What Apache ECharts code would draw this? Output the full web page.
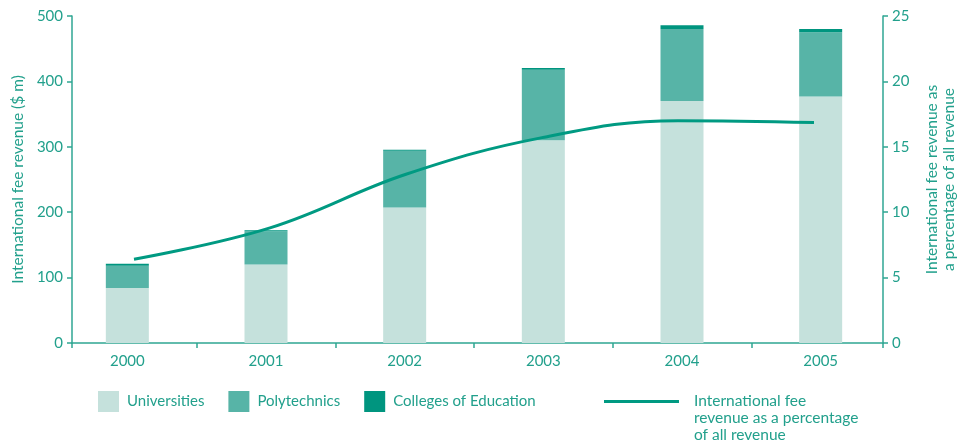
<!DOCTYPE html>
<html>
<head>
<meta charset="utf-8">
<script src="https://cdn.jsdelivr.net/npm/echarts@6/dist/echarts.min.js"></script>
<style>
  html, body { margin: 0; padding: 0; background: #ffffff; }
  #chart { width: 957px; height: 443px; }
</style>
</head>
<body>
<div id="chart"></div>
<script>
// International fee revenue by provider type, 2000–2005
const years = ['2000', '2001', '2002', '2003', '2004', '2005'];
const universities = [84, 120, 207, 310, 370, 377];
const polytechnics = [34, 51, 87, 108, 110, 98];
const collegesOfEducation = [3, 1.5, 1.5, 2.5, 6, 5];
// share of all revenue, percent
const feeSharePct = [6.4, 8.8, 12.9, 15.7, 17.0, 16.85];
const revenueTicks = { min: 0, max: 500, step: 100 };
const shareTicks = { min: 0, max: 25, step: 5 };

const TEXT = '#22a08c';
const AXIS = '#2fa693';
const FONT = 'Lato, "Open Sans", sans-serif';

const chart = echarts.init(document.getElementById('chart'), null, { renderer: 'canvas' });

const plotTop = 16, plotBottom = 100;

chart.setOption({
  animation: false,
  textStyle: { fontFamily: FONT, color: TEXT },
  grid: [
    { left: 58, right: 67, top: plotTop, bottom: plotBottom, outerBoundsMode: 'none' },   // bars
    { left: 66, right: 75, top: plotTop, bottom: plotBottom, outerBoundsMode: 'none' },   // percentage line
    { left: 72, right: 74, top: plotTop, bottom: plotBottom, outerBoundsMode: 'none' }    // visible axis frame
  ],
  xAxis: [
    {
      type: 'category', gridIndex: 0, data: years, position: 'bottom',
      axisLine: { show: false }, axisTick: { show: false },
      axisLabel: { color: TEXT, fontSize: 15, margin: 11, fontFamily: FONT }
    },
    {
      // separators between the years
      type: 'value', gridIndex: 0, position: 'bottom',
      min: 0, max: years.length, interval: 1,
      axisLine: { show: false }, axisLabel: { show: false }, splitLine: { show: false },
      axisTick: { show: true, length: 5, lineStyle: { color: AXIS, width: 1.5 },
                  customValues: [1, 2, 3, 4, 5] }
    },
    {
      type: 'category', gridIndex: 1, data: years, show: false
    },
    {
      type: 'value', gridIndex: 2, position: 'bottom', min: 0, max: 1, interval: 1,
      axisLine: { show: true, lineStyle: { color: AXIS, width: 1.5 } },
      axisTick: { show: true, length: 5, lineStyle: { color: AXIS, width: 1.5 } },
      axisLabel: { show: false }, splitLine: { show: false }
    }
  ],
  yAxis: [
    { type: 'value', gridIndex: 0, min: revenueTicks.min, max: revenueTicks.max, show: false },
    { type: 'value', gridIndex: 1, min: shareTicks.min, max: shareTicks.max, show: false },
    {
      type: 'value', gridIndex: 2, position: 'left',
      min: revenueTicks.min, max: revenueTicks.max, interval: revenueTicks.step,
      name: 'International fee revenue ($ m)', nameLocation: 'middle', nameGap: 46,
      nameTextStyle: { color: TEXT, fontSize: 15.5, fontFamily: FONT },
      axisLine: { show: true, lineStyle: { color: AXIS, width: 1.5 } },
      axisTick: { show: true, length: 5, lineStyle: { color: AXIS, width: 1.5 } },
      axisLabel: { color: TEXT, fontSize: 15, margin: 9, fontFamily: FONT },
      splitLine: { show: false }
    },
    {
      type: 'value', gridIndex: 2, position: 'right',
      min: shareTicks.min, max: shareTicks.max, interval: shareTicks.step,
      name: 'International fee revenue as\na percentage of all revenue',
      nameLocation: 'middle', nameGap: 40, nameRotate: 90,
      nameTextStyle: { color: TEXT, fontSize: 15.5, lineHeight: 17, fontFamily: FONT },
      axisLine: { show: true, lineStyle: { color: AXIS, width: 1.5 } },
      axisTick: { show: true, length: 5, lineStyle: { color: AXIS, width: 1.5 } },
      axisLabel: { color: TEXT, fontSize: 15, margin: 9, fontFamily: FONT },
      splitLine: { show: false }
    }
  ],
  legend: [
    {
      data: ['Universities', 'Polytechnics', 'Colleges of Education'],
      left: 98, top: 391, orient: 'horizontal', padding: 0,
      itemWidth: 21, itemHeight: 21, itemGap: 24, icon: 'rect',
      selectedMode: false,
      textStyle: { color: TEXT, fontSize: 15, fontFamily: FONT, padding: [0, 0, 0, 3] }
    },
    {
      data: [{
        name: 'International fee\nrevenue as a percentage\nof all revenue',
        icon: 'path://M0,8h75v3h-75z M0,0h0.01v0.01h-0.01z M0,51h0.01v0.01h-0.01z'
      }],
      left: 604, top: 392, padding: 0,
      itemWidth: 75, itemHeight: 51,
      selectedMode: false,
      textStyle: { color: TEXT, fontSize: 15.5, lineHeight: 17, fontFamily: FONT, padding: [0, 0, 0, 10] }
    }
  ],
  series: [
    {
      name: 'Universities', type: 'bar', stack: 'revenue',
      xAxisIndex: 0, yAxisIndex: 0, barWidth: 43,
      itemStyle: { color: '#c5e1dc' }, data: universities
    },
    {
      name: 'Polytechnics', type: 'bar', stack: 'revenue',
      xAxisIndex: 0, yAxisIndex: 0, barWidth: 43,
      itemStyle: { color: '#57b4a7' }, data: polytechnics
    },
    {
      name: 'Colleges of Education', type: 'bar', stack: 'revenue',
      xAxisIndex: 0, yAxisIndex: 0, barWidth: 43,
      itemStyle: { color: '#00957f' }, data: collegesOfEducation
    },
    {
      name: 'International fee\nrevenue as a percentage\nof all revenue',
      type: 'line', xAxisIndex: 2, yAxisIndex: 1,
      smooth: 0.4, showSymbol: false, symbol: 'none',
      lineStyle: { color: '#009a82', width: 3 },
      itemStyle: { color: '#009a82' },
      data: feeSharePct, z: 5
    }
  ]
});
</script>
</body>
</html>
